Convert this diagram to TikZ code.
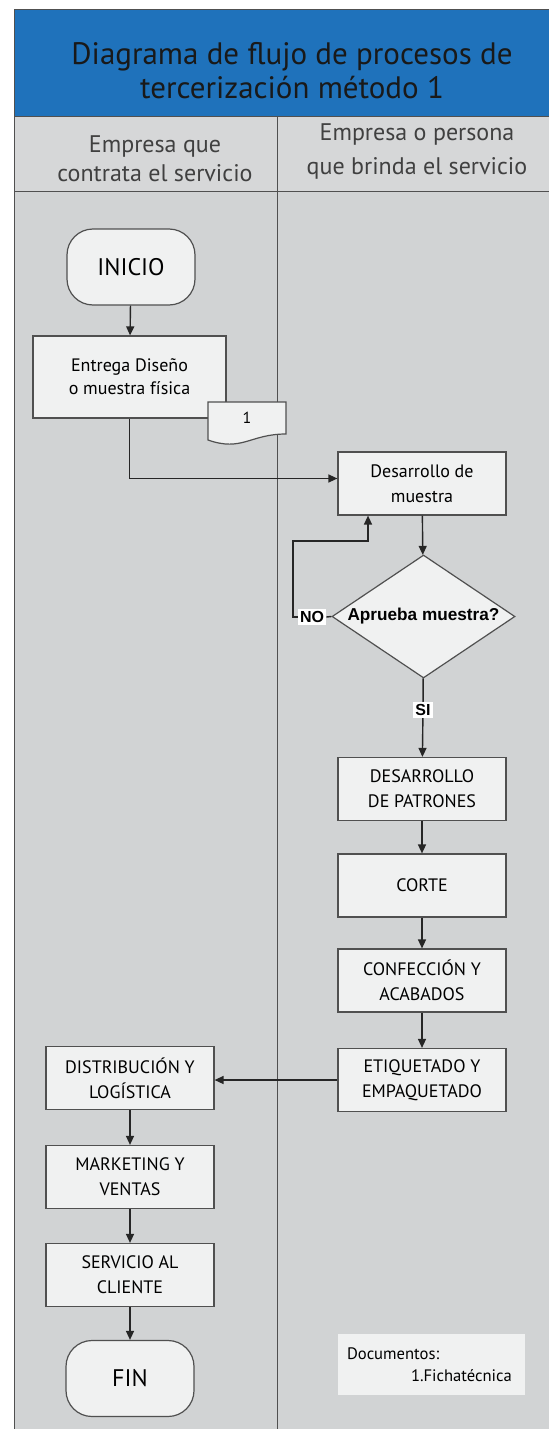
\documentclass[tikz,border=0pt]{standalone}
\usepackage{fontspec}
\setmainfont{PT Sans}
\newfontfamily\arialfont{Liberation Sans}
\usetikzlibrary{shapes.geometric,arrows.meta,calc,positioning}
\definecolor{azulcab}{RGB}{31,114,187}
\definecolor{grisfondo}{RGB}{209,211,212}
\definecolor{griscab}{RGB}{214,215,216}
\definecolor{grisbox}{RGB}{240,241,241}
\definecolor{borde}{RGB}{80,80,80}

\begin{document}
\begin{tikzpicture}[x=0.5pt,y=-0.5pt,
  proceso/.style={draw=borde,line width=0.6pt,fill=grisbox,minimum width=84pt,minimum height=31.5pt,align=center,inner sep=1pt,font=\fontsize{9}{12.5}\selectfont},
  terminal/.style={draw=borde,line width=0.6pt,fill=grisbox,rounded corners=13pt,minimum width=64pt,minimum height=38pt,font=\fontsize{12}{14}\selectfont},
  decision/.style={diamond,draw=borde,line width=0.6pt,fill=grisbox,minimum width=91.5pt,minimum height=61.5pt,aspect=1.5,inner sep=0pt,font=\arialfont\bfseries\fontsize{8.6}{9}\selectfont},
  etiqueta/.style={fill=white,inner sep=1pt,font=\arialfont\bfseries\fontsize{8}{9}\selectfont},
  flecha/.style={-{Triangle[length=4.5pt,width=4pt]},line width=0.7pt,draw=black!85},
  linea/.style={line width=0.7pt,draw=black!85}]
                \useasboundingbox (0,0) rectangle (549,1429);
                \clip (0,0) rectangle (549,1429);
                %Lanes
                \fill[azulcab] (14,10) rectangle (560,117);
                \fill[griscab] (14,117) rectangle (560,191);
                \fill[grisfondo] (14,191) rectangle (560,1440);
                \draw[borde,line width=0.5pt] (14,10) -- (560,10) (14,10) -- (14,1440);
                \draw[borde,line width=0.5pt] (14,117) -- (560,117) (14,191) -- (560,191) (277,117) -- (277,1440);
                %Titles
                \node[font=\fontsize{15.5}{17}\selectfont,align=center,text=black!90] (titulo) at (292,71) {Diagrama de flujo de procesos de\\tercerización método 1};
                \node[font=\fontsize{12}{14.5}\selectfont,align=center,text=black!75] (carril1) at (155,159) {Empresa que\\contrata el servicio};
                \node[font=\fontsize{12}{17}\selectfont,align=center,text=black!75] (carril2) at (417,151) {Empresa o persona\\que brinda el servicio};
                %Left lane
                \node[terminal] (inicio) at (131,267) {INICIO};
                \node[proceso,minimum width=96.5pt,minimum height=41pt,font=\fontsize{9}{11.5}\selectfont] (entrega) at (129.5,377) {Entrega Diseño\\o muestra física};
                \filldraw[draw=borde,line width=0.6pt,fill=grisbox] (208,402) -- (286,402) -- (286,434) .. controls (250,434) and (242,452) .. (208,440) -- cycle;
                \node[font=\fontsize{8}{9}\selectfont] (doc1) at (247,418) {1};
                %Right lane
                \node[proceso] (desarrollo) at (422,483.5) {Desarrollo de\\muestra};
                \node[decision] (aprueba) at (423.5,616.5) {Aprueba muestra?};
                \node[etiqueta] (no) at (312,617) {NO};
                \node[etiqueta] (si) at (423,710) {SI};
                \coordinate (lazo) at (293,541);
                \node[proceso] (patrones) at (422,789) {DESARROLLO\\DE PATRONES};
                \node[proceso] (corte) at (422,885.5) {CORTE};
                \node[proceso] (confeccion) at (422,980.5) {CONFECCIÓN Y\\ACABADOS};
                \node[proceso] (etiquetado) at (422,1080) {ETIQUETADO Y\\EMPAQUETADO};
                %Back to left lane
                \node[proceso] (distribucion) at (130,1078) {DISTRIBUCIÓN Y\\LOGÍSTICA};
                \node[proceso] (marketing) at (130,1177) {MARKETING Y\\VENTAS};
                \node[proceso] (servicio) at (130,1275) {SERVICIO AL\\CLIENTE};
                \node[terminal] (fin) at (130,1378.5) {FIN};
                \node[fill=grisbox,minimum height=30.5pt,text width=84.5pt,inner xsep=4.5pt,align=left,font=\fontsize{8.3}{11}\selectfont] (docs) at (431.5,1364.5) {Documentos:\\\hspace*{32pt}1.Fichatécnica};
                %Arrows
                \draw[flecha] (inicio) -- (entrega);
                \draw[flecha] (entrega.south) |- ($(desarrollo.west)+(0,-5)$);
                \draw[flecha] (desarrollo) -- (aprueba);
                \draw[linea] (aprueba.west) -- (no.east);
                \draw[flecha] (no.west) -| (lazo) -| ($(desarrollo.south)+(-54,0)$);
                \draw[linea] (aprueba) -- (si);
                \draw[flecha] (si) -- (patrones);
                \draw[flecha] (patrones) -- (corte);
                \draw[flecha] (corte) -- (confeccion);
                \draw[flecha] (confeccion) -- (etiquetado);
                \draw[flecha] (etiquetado.west) -- (etiquetado.west -| distribucion.east);
                \draw[flecha] (distribucion) -- (marketing);
                \draw[flecha] (marketing) -- (servicio);
                \draw[flecha] (servicio) -- (fin);
            \end{tikzpicture}
\end{document}
